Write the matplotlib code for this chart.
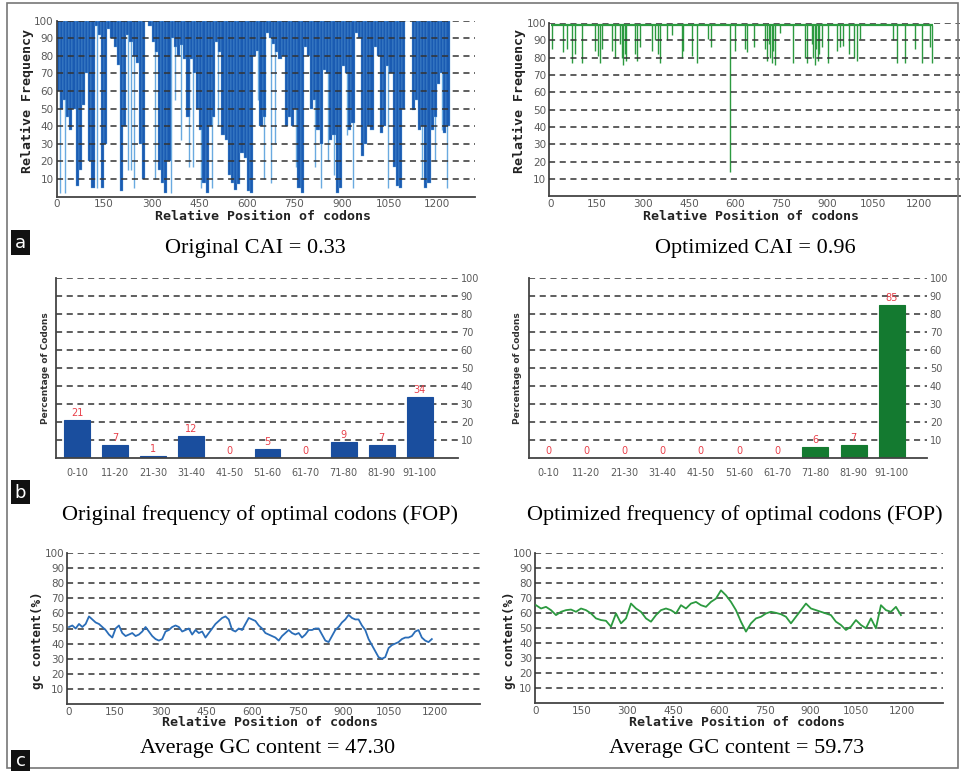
import numpy as np
import matplotlib
matplotlib.use("Agg")
import matplotlib.pyplot as plt
from matplotlib.patches import Rectangle

# ---------------- DATA ----------------
# Panel a (left): original CAI, relative frequency per 10-codon bin (bin starts)
cai_orig_start = list(range(0, 1240, 10))
cai_orig_val = [60, 50, 55, 45, 38, 50, 6, 15, 52, 70,
                20, 5, 97, 92, 5, 30, 95, 90, 85, 75,
                3, 40, 92, 88, 80, 76, 30, 10, 100, 97,
                88, 82, 15, 8, 2, 20, 90, 85, 80, 86,
                78, 45, 78, 70, 50, 38, 8, 2, 40, 45,
                88, 82, 35, 32, 12, 8, 4, 7, 25, 22,
                3, 2, 80, 83, 40, 45, 93, 90, 87, 82,
                78, 80, 40, 45, 40, 50, 5, 2, 85, 80,
                50, 55, 38, 30, 72, 70, 32, 35, 2, 5,
                74, 70, 38, 42, 93, 90, 23, 30, 40, 38,
                85, 80, 36, 40, 74, 70, 17, 6, 5, 50,
                100, 100, 49, 55, 38, 40, 5, 8, 38, 45,
                64, 70, 36, 40]
cai_orig_spike_pos = [12, 27, 128, 225, 236, 243, 312, 362, 375, 392, 417, 432, 455,
                      490, 510, 635, 655, 675, 690, 755, 815, 835, 855, 875, 915,
                      935, 1045, 1152, 1195, 1215, 1233]
cai_orig_spike_val = [2, 2, 5, 15, 15, 5, 10, 2, 55, 32, 17, 17, 5,
                      5, 40, 55, 10, 8, 30, 17, 17, 5, 20, 12, 35,
                      5, 5, 10, 20, 38, 5]

# Panel a (right): optimized CAI, dips below ~99
cai_opt_pos = [3, 40, 51, 67, 78, 102, 143, 154, 160, 165, 198, 209, 225, 230, 235,
               240, 245, 274, 279, 290, 328, 339, 350, 355, 377, 395, 426, 431, 459, 475,
               511, 522, 584, 600, 632, 638, 660, 698, 703, 710, 715, 720, 725, 730, 747,
               790, 828, 834, 850, 855, 860, 865, 870, 875, 882, 904, 931, 942, 953, 970,
               986, 997, 1008, 1116, 1127, 1154, 1185, 1209, 1236, 1241]
cai_opt_val = [85, 83, 85, 77, 82, 77, 84, 81, 77, 85, 84, 80, 88, 80, 76,
               82, 78, 82, 78, 86, 84, 90, 82, 77, 90, 93, 80, 84, 81, 77,
               91, 86, 14, 84, 85, 83, 86, 85, 78, 88, 80, 77, 84, 76, 94,
               77, 80, 77, 88, 80, 76, 85, 78, 82, 86, 77, 84, 86, 87, 82,
               80, 78, 91, 90, 77, 77, 85, 77, 86, 77]
cai_opt_base = 99
cai_opt_end = 1245

# Panel b: frequency of optimal codons
fop_cats = ['0-10', '11-20', '21-30', '31-40', '41-50', '51-60', '61-70',
            '71-80', '81-90', '91-100']
fop_orig = [21, 7, 1, 12, 0, 5, 0, 9, 7, 34]
fop_opt = [0, 0, 0, 0, 0, 0, 0, 6, 7, 85]

# Panel c: GC content along the sequence
gc_orig = [51, 52, 50, 53, 51, 53, 58, 56, 54, 53, 51, 49, 46, 44, 50, 52, 47, 45, 46, 47,
           45, 46, 48, 51, 48, 45, 43, 42, 43, 48, 49, 51, 52, 51, 48, 49, 50, 46, 49, 47,
           48, 44, 47, 50, 53, 55, 57, 58, 56, 49, 48, 50, 49, 53, 57, 56, 55, 52, 50, 47,
           46, 45, 44, 42, 45, 47, 49, 47, 46, 47, 44, 46, 49, 49, 50, 50, 46, 42, 41, 45,
           49, 51, 54, 56, 59, 57, 56, 56, 52, 49, 43, 39, 35, 31, 30, 31, 37, 39, 40, 41,
           43, 44, 44, 45, 48, 49, 44, 42, 41, 43]
gc_orig_end = 1190
gc_opt = [65.2, 63.0, 64.1, 61.9, 58.6, 60.8, 61.9, 62.3, 60.8, 63.0, 61.9, 59.7, 56.4,
          55.3, 54.8, 50.9, 59.7, 53.1, 56.4, 66.3, 63.0, 60.8, 56.4, 54.2, 58.6, 61.9,
          63.0, 61.9, 59.7, 65.2, 63.0, 66.3, 67.4, 65.2, 64.1, 67.4, 69.6, 75.1, 71.8,
          67.4, 61.9, 54.2, 47.6, 53.1, 56.4, 57.5, 59.7, 60.8, 60.1, 59.2, 57.5, 53.1,
          57.5, 61.9, 66.3, 63.0, 61.9, 60.8, 59.7, 58.6, 54.2, 52.0, 48.7, 50.9, 55.3,
          52.0, 49.8, 56.4, 49.8, 65.2, 61.9, 60.8, 64.1, 58.6]
gc_opt_end = 1197

pos_ticks = [0, 150, 300, 450, 600, 750, 900, 1050, 1200]
pct_ticks = [10, 20, 30, 40, 50, 60, 70, 80, 90, 100]

# ---------------- STYLE ----------------
W, H = 964, 771
fig = plt.figure(figsize=(W / 100, H / 100), dpi=100)
fig.patch.set_facecolor('white')

TICK_C = '#5a5a5a'
GRID_C = '#333333'
SPINE_C = '#444444'
MONO = 'DejaVu Sans Mono'
SERIF = 'Liberation Serif'
DARK_BLUE = '#1a5bb2'
LIGHT_BLUE = '#6aaae0'
LINE_BLUE = '#2a6db8'
GREEN = '#2c9a40'
DARK_GREEN = '#147a30'
BAR_BLUE = '#1a4e9e'
RED = '#e8404a'


def px_axes(x0, y0, x1, y1):
    return fig.add_axes([x0 / W, 1 - y1 / H, (x1 - x0) / W, (y1 - y0) / H])


def ftext(x, y, s, **kw):
    kw.setdefault('ha', 'center')
    kw.setdefault('va', 'center')
    fig.text(x / W, 1 - y / H, s, **kw)


def style(ax, grid_z=3):
    for s in ['top', 'right']:
        ax.spines[s].set_visible(False)
    for s in ['left', 'bottom']:
        ax.spines[s].set_color(SPINE_C)
        ax.spines[s].set_linewidth(1.3)
    ax.set_ylim(0, 100)
    ax.set_yticks(pct_ticks)
    for y in pct_ticks:
        ax.axhline(y, color=GRID_C, lw=1.1, ls=(0, (4, 3)), zorder=grid_z)
    ax.tick_params(length=0, labelsize=7.5, labelcolor=TICK_C, pad=2)
    ax.set_facecolor('none')


# ---------------- PANEL a ----------------
axL = px_axes(56.5, 20.7, 475, 196.6)
style(axL)
axL.set_xlim(0, 1320)
axL.vlines(cai_orig_spike_pos, cai_orig_spike_val, 100, color=LIGHT_BLUE, lw=1.0,
           zorder=1.8)
axL.bar(cai_orig_start, [100 - v for v in cai_orig_val], bottom=cai_orig_val,
        width=10, align='edge', color=DARK_BLUE, edgecolor=LIGHT_BLUE, linewidth=0.25,
        zorder=2)
axL.set_xticks(pos_ticks)

axR = px_axes(549, 23, 960, 196.3)
style(axR)
axR.set_xlim(-6.5, 1333)
axR.hlines(cai_opt_base, 0, cai_opt_end, color=GREEN, lw=1.6, zorder=2)
axR.vlines(cai_opt_pos, cai_opt_val, cai_opt_base, color=GREEN, lw=1.0, zorder=2)
axR.set_xticks(pos_ticks)

for x in (27, 519):
    ftext(x, 101, 'Relative Frequency', rotation=90, fontfamily=MONO,
          fontweight='bold', fontsize=9.5, color='#222222')
ftext(263, 217, 'Relative Position of codons', fontfamily=MONO, fontweight='bold',
      fontsize=9.5, color='#222222')
ftext(751, 217, 'Relative Position of codons', fontfamily=MONO, fontweight='bold',
      fontsize=9.5, color='#222222')
ftext(255, 248, 'Original CAI = 0.33', fontfamily=SERIF, fontsize=16)
ftext(755, 248, 'Optimized CAI = 0.96', fontfamily=SERIF, fontsize=16)

# ---------------- PANEL b ----------------
def fop_panel(box, xlim, vals, color, ylab_x):
    ax = px_axes(*box)
    style(ax, grid_z=0.5)
    ax.set_xlim(*xlim)
    xs = np.arange(len(fop_cats))
    ax.bar(xs, vals, width=0.68, color=color, edgecolor=color, linewidth=0.8, zorder=2)
    for x, v in zip(xs, vals):
        ax.text(x, v + 4, str(v), ha='center', va='center', fontsize=7, color=RED,
                zorder=4)
    ax.set_xticks(xs)
    ax.set_xticklabels(fop_cats)
    ax.tick_params(axis='x', labelsize=7, pad=7)
    ax.yaxis.tick_right()
    ax.tick_params(axis='y', labelsize=7, pad=2)
    ftext(ylab_x, 368, 'Percentage of Codons', rotation=90, fontsize=6.5,
          fontweight='bold', color='#333333')
    return ax


fop_panel((56, 278, 458, 458), (-0.55, 10.0), fop_orig, BAR_BLUE, 45)
fop_panel((529, 278, 927, 458), (-0.5, 9.92), fop_opt, DARK_GREEN, 518)
ftext(260, 515, 'Original frequency of optimal codons (FOP)', fontfamily=SERIF,
      fontsize=16)
ftext(735, 515, 'Optimized frequency of optimal codons (FOP)', fontfamily=SERIF,
      fontsize=16)

# ---------------- PANEL c ----------------
axCL = px_axes(67, 553, 480, 704)
style(axCL)
axCL.set_xlim(-6.6, 1348)
axCL.plot(np.linspace(0, gc_orig_end, len(gc_orig)), gc_orig, color=LINE_BLUE,
          lw=1.3, zorder=4)
axCL.set_xticks(pos_ticks)

axCR = px_axes(535, 553, 943, 703)
style(axCR)
axCR.set_xlim(-3.3, 1335)
axCR.plot(np.linspace(0, gc_opt_end, len(gc_opt)), gc_opt, color=GREEN, lw=1.3,
          zorder=4)
axCR.set_xticks(pos_ticks)

for x in (37, 509):
    ftext(x, 640, 'gc content(%)', rotation=90, fontfamily=MONO, fontweight='bold',
          fontsize=9, color='#222222')
ftext(270, 722, 'Relative Position of codons', fontfamily=MONO, fontweight='bold',
      fontsize=9.5, color='#222222')
ftext(737, 722, 'Relative Position of codons', fontfamily=MONO, fontweight='bold',
      fontsize=9.5, color='#222222')
ftext(268, 748, 'Average GC content = 47.30', fontfamily=SERIF, fontsize=16)
ftext(737, 748, 'Average GC content = 59.73', fontfamily=SERIF, fontsize=16)

# ---------------- frame and panel letters ----------------
fig.patches.append(Rectangle((7 / W, 1 - 768 / H), (958 - 7) / W, (768 - 3) / H,
                             transform=fig.transFigure, fill=False,
                             edgecolor='#777777', lw=1.2))
for letter, y0, y1 in (('a', 230, 255), ('b', 480, 504), ('c', 750, 771)):
    fig.patches.append(Rectangle((11 / W, 1 - y1 / H), 19 / W, (y1 - y0) / H,
                                 transform=fig.transFigure, facecolor='#111111',
                                 edgecolor='none'))
    ftext(20.5, (y0 + y1) / 2 + 1, letter, color='white', fontsize=13,
          fontfamily='DejaVu Sans')

fig.savefig('out.png', dpi=100, facecolor='white')
